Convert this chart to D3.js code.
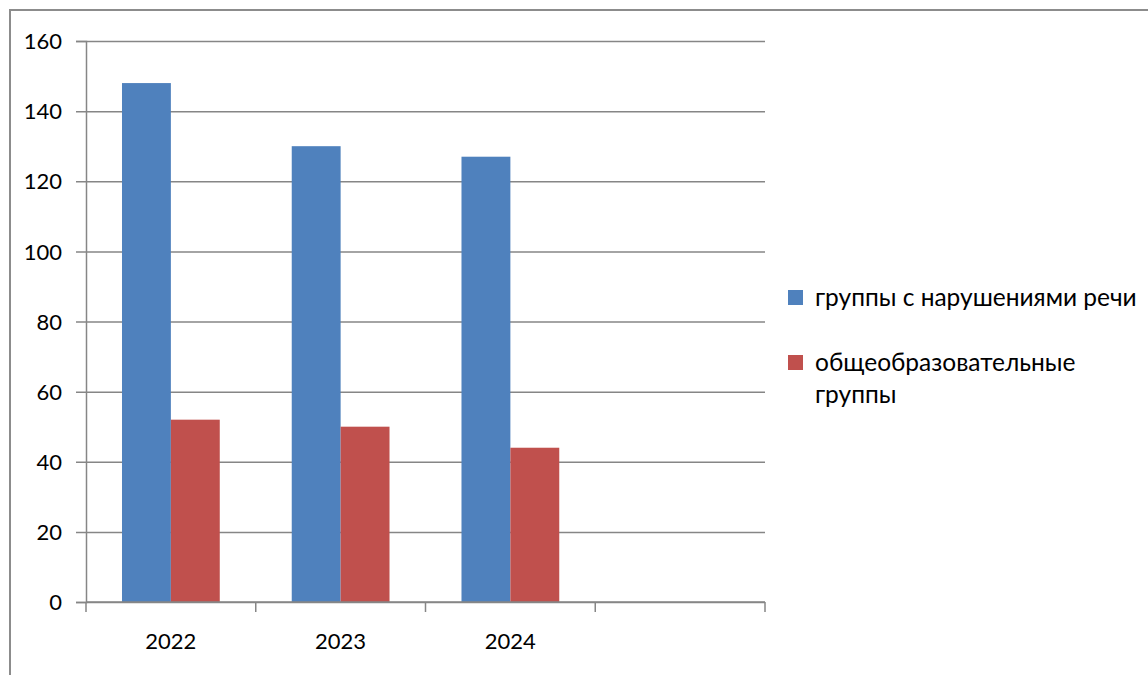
<!DOCTYPE html>
<html>
<head>
<meta charset="utf-8">
<script src="https://cdn.jsdelivr.net/npm/d3@7"></script>
<style>
  html, body { margin: 0; padding: 0; background: #fff; }
  svg { display: block; font-family: Lato, 'Liberation Sans', sans-serif; }
</style>
</head>
<body>
<svg id="chart" width="1148" height="675"></svg>
<script>
const categories = ['2022', '2023', '2024', '']
const seriesNames = ['группы с нарушениями речи', 'общеобразовательные группы']
const speech = [148, 130, 127]
const general = [52, 50, 44]
const yTicks = [0, 20, 40, 60, 80, 100, 120, 140, 160]
const colors = ['#4F81BD', '#C0504D']

const svg = d3.select('#chart')
const axisColor = '#868686'
const tickSize = '22px'
const legendSize = '24.5px'

// outer frame
svg.append('path')
  .attr('d', 'M10,676 L10,10 L1150,10')
  .attr('fill', 'none')
  .attr('stroke', '#8c8c8c')
  .attr('stroke-width', 2)

const plot = {left: 86, right: 765, top: 41, bottom: 602}

const x = d3.scaleBand().domain(categories).range([plot.left, plot.right]).paddingInner(0)
const x1 = d3.scaleBand().domain(seriesNames)
  .range([x.bandwidth() * 0.212, x.bandwidth() * 0.788])
const y = d3.scaleLinear().domain([0, 160]).range([plot.bottom, plot.top])

// gridlines + y ticks
svg.append('g')
  .attr('transform', `translate(${plot.left},0)`)
  .call(d3.axisLeft(y).tickValues(yTicks).tickSize(10).tickPadding(14))
  .attr('font-family', null).attr('font-size', null)
  .call(g => g.select('.domain').attr('stroke', axisColor).attr('stroke-width', 1.5))
  .call(g => g.selectAll('.tick line').attr('stroke', axisColor).attr('stroke-width', 1.5)
    .attr('x2', plot.right - plot.left).attr('x1', -10))
  .call(g => g.selectAll('.tick text').attr('fill', '#000').style('font-size', tickSize)
    .attr('dy', '0.35em'))

const rows = categories.slice(0, speech.length).map((c, i) => ({cat: c, vals: [speech[i], general[i]]}))

svg.append('g').selectAll('g').data(rows).enter().append('g')
    .attr('transform', d => `translate(${x(d.cat)},0)`)
  .selectAll('rect').data(d => d.vals.map((v, j) => ({name: seriesNames[j], v, j}))).enter().append('rect')
    .attr('x', d => x1(d.name))
    .attr('width', x1.bandwidth())
    .attr('y', d => y(d.v))
    .attr('height', d => y(0) - y(d.v))
    .attr('fill', d => colors[d.j])

// x axis
const xAxis = svg.append('g').attr('transform', `translate(0,${plot.bottom})`)
xAxis.append('line')
  .attr('x1', plot.left).attr('x2', plot.right)
  .attr('stroke', axisColor).attr('stroke-width', 1.5)
xAxis.selectAll('line.tk').data(categories.concat(['end'])).enter().append('line')
  .attr('class', 'tk')
  .attr('x1', (d, i) => i < categories.length ? x(d) : plot.right)
  .attr('x2', (d, i) => i < categories.length ? x(d) : plot.right)
  .attr('y1', 0).attr('y2', 10)
  .attr('stroke', axisColor).attr('stroke-width', 1.5)
xAxis.selectAll('text').data(categories).enter().append('text')
  .attr('x', d => x(d) + x.bandwidth() / 2)
  .attr('y', 47)
  .attr('text-anchor', 'middle')
  .style('font-size', tickSize)
  .text(d => d)

// legend
const legendLines = [['группы с нарушениями речи'], ['общеобразовательные', 'группы']]
const legend = svg.append('g')
const itemY = [298, 363]
legendLines.forEach((lines, i) => {
  legend.append('rect')
    .attr('x', 788).attr('y', itemY[i] - 8)
    .attr('width', 15).attr('height', 15)
    .attr('fill', colors[i])
  const t = legend.append('text').style('font-size', legendSize)
    .attr('x', 815).attr('y', itemY[i] + 8)
  lines.forEach((l, k) => {
    t.append('tspan').attr('x', 815).attr('dy', k === 0 ? 0 : 32).text(l)
  })
})
</script>
</body>
</html>
